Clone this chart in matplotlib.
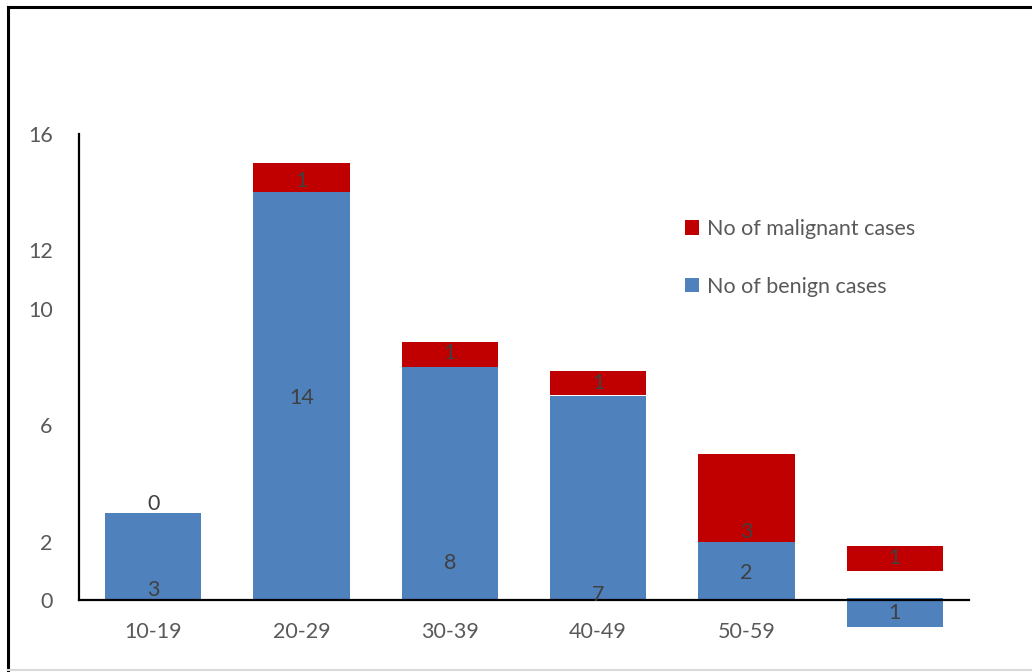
import matplotlib
matplotlib.use("Agg")
import matplotlib.pyplot as plt
from matplotlib.lines import Line2D
from matplotlib.patches import Patch

# ---- data ----
categories = ["10-19", "20-29", "30-39", "40-49", "50-59", ""]
benign = [3, 14, 8, 7, 2, 1]
malignant = [0, 1, 1, 1, 3, 1]
# segment geometry as it appears in the picture (estimated)
benign_bottom = [0, 0, 0, 0, 0, -0.92]
malignant_bottom = [3, 14, 8, 7.03, 2, 1.01]
malignant_drawn = [0, 1.0, 0.86, 0.84, 3, 0.85]
# data-label vertical placement
benign_label_y = [0.34, 6.94, 1.27, 0.17, 0.93, -0.45]
malignant_label_y = [3.3, 14.39, 8.48, 7.45, 2.33, 1.44]
yticks = [0, 2, 6, 10, 12, 16]

BLUE = "#4F81BD"
RED = "#C00000"
GREY = "#595959"
plt.rcParams["font.family"] = ["Lato", "DejaVu Sans"]

fig = plt.figure(figsize=(10.32, 6.72), dpi=100)
ax = fig.add_axes([79/1032, 1-600/672, 890/1032, 466/672])

x = list(range(len(categories)))
w = 0.65
ax.bar(x, benign, width=w, bottom=benign_bottom, color=BLUE, clip_on=False, zorder=2)
ax.bar(x, malignant_drawn, width=w, bottom=malignant_bottom, color=RED, clip_on=False, zorder=2)

for i in x:
    ax.text(i, benign_label_y[i], str(benign[i]), ha="center", va="center",
            fontsize=15.5, color="#404040", zorder=4, clip_on=False)
    ax.text(i, malignant_label_y[i], str(malignant[i]), ha="center", va="center",
            fontsize=15.5, color="#404040", zorder=4, clip_on=False)

ax.set_xlim(-0.5, 5.5)
ax.set_ylim(0, 16)
ax.set_yticks(yticks)
ax.set_yticklabels([str(t) for t in yticks])
ax.set_xticks(x)
ax.set_xticklabels(categories)
ax.tick_params(axis="y", length=0, pad=19, labelsize=15.5, labelcolor=GREY)
ax.tick_params(axis="x", length=0, pad=16, labelsize=15.5, labelcolor=GREY)
for s in ["top", "right"]:
    ax.spines[s].set_visible(False)
ax.spines["left"].set_linewidth(1.6)
ax.spines["bottom"].set_linewidth(1.6)
ax.spines["left"].set_zorder(3)
ax.spines["bottom"].set_zorder(3)

handles = [Patch(facecolor=RED, label="No of malignant cases"),
           Patch(facecolor=BLUE, label="No of benign cases")]
ax.legend(handles=handles, loc="upper left", bbox_to_anchor=(685/1032, 1-219/672),
          bbox_transform=fig.transFigure, frameon=False, fontsize=15.5,
          labelcolor=GREY, handlelength=0.65, handleheight=0.65, handletextpad=0.35,
          labelspacing=1.75, borderpad=0, borderaxespad=0)

# outer frame
fig.add_artist(Line2D([8/1032, 1], [1-7/672, 1-7/672], color="black", lw=2.2, transform=fig.transFigure))
fig.add_artist(Line2D([8/1032, 8/1032], [0, 1-7/672], color="black", lw=2.2, transform=fig.transFigure))
fig.add_artist(Line2D([8/1032, 1], [2/672, 2/672], color="#d9d9d9", lw=1.5, transform=fig.transFigure))

fig.savefig("out.png", dpi=100)
